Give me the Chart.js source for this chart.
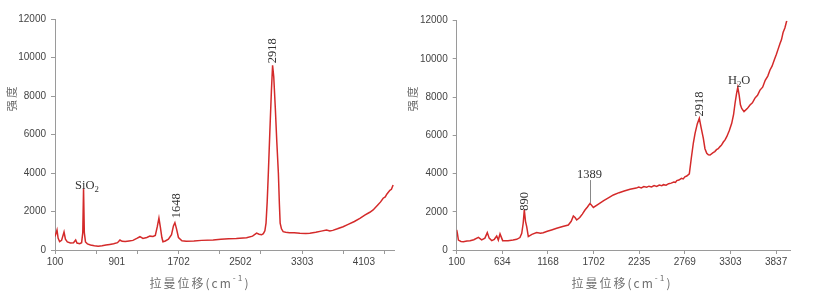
<!DOCTYPE html>
<html>
<head>
<meta charset="utf-8">
<script src="https://cdn.jsdelivr.net/npm/chart.js@4.4.1/dist/chart.umd.min.js"></script>
<style>
  html, body { margin: 0; padding: 0; background: #fff; }
  #wrap { position: relative; width: 816px; height: 299px; }
  .box { position: absolute; top: 0; height: 299px; }
</style>
</head>
<body>
<div id="wrap">
  <div class="box" style="left:0;width:404px"><canvas id="left" width="404" height="299"></canvas></div>
  <div class="box" style="left:404px;width:412px"><canvas id="right" width="412" height="299"></canvas></div>
</div>
<script>
// Raman spectra, two panels. x = Raman shift (cm-1), y = intensity.

const yTicks = [0, 2000, 4000, 6000, 8000, 10000, 12000];

// left panel
const leftLabels = [100, 901, 1702, 2502, 3303, 4103];
const leftMarks = [100, 634, 1168, 1702, 2235, 2769, 3303, 3837, 4371];
const leftShift = [
  100, 126, 140, 160, 185, 217, 235, 260, 300, 340, 368, 385, 420, 445, 460, 470, 480, 495,
  520, 560, 610, 660, 710, 760, 810, 860, 910, 942, 970, 1010, 1060, 1110, 1160, 1201, 1240,
  1290, 1330, 1370, 1400, 1425, 1447, 1465, 1485, 1499, 1530, 1570, 1610, 1635, 1654, 1675,
  1700, 1745, 1800, 1900, 2000, 2150, 2250, 2350, 2450, 2583, 2660, 2713, 2745, 2777, 2800,
  2820, 2835, 2850, 2865, 2885, 2905, 2920, 2935, 2955, 2975, 2995, 3008, 3018, 3035, 3057,
  3090, 3140, 3200, 3274, 3350, 3403, 3480, 3550, 3619, 3662, 3700, 3760, 3834, 3900, 3980,
  4051, 4120, 4180, 4223, 4280, 4320, 4353, 4380, 4400, 4440, 4460, 4482
];
const leftIntensity = [
  700, 1040, 620, 430, 500, 935, 560, 420, 360, 380, 520, 360, 330, 380, 900, 3200, 900, 420,
  320, 260, 220, 200, 220, 260, 290, 320, 380, 520, 450, 440, 470, 500, 600, 690, 600,
  650, 720, 700, 760, 1200, 1660, 1200, 650, 430, 470, 560, 800, 1250, 1420, 1100,
  650, 480, 450, 470, 500, 520, 560, 580, 600, 640, 720, 880, 820, 790, 850,
  1000, 1400, 2500, 4000, 6200, 8300, 9600, 9000, 7400, 5600, 4000, 2400, 1400, 1100, 950,
  920, 900, 890, 870, 860, 870, 920, 980, 1040, 990, 1020, 1100, 1210, 1330, 1480,
  1640, 1820, 1960, 2080, 2320, 2500, 2690, 2760, 2900, 3100, 3150, 3380
];

// right panel
const rightLabels = [100, 634, 1168, 1702, 2235, 2769, 3303, 3837];
const rightMarks = [100, 634, 1168, 1702, 2235, 2769, 3303, 3837];
const rightShift = [
  100, 107, 120, 150, 178, 220, 256, 300, 354, 392, 430, 458, 480, 510, 540, 568, 587, 607,
  638, 700, 760, 802, 840, 861, 878, 891, 905, 919, 938, 980, 1036, 1080, 1113, 1160, 1210,
  1270, 1340, 1406, 1440, 1465, 1485, 1504, 1540, 1570, 1601, 1630, 1660, 1699, 1750, 1820,
  1880, 1933, 2000, 2060, 2128, 2200, 2230, 2260, 2290, 2323, 2350, 2380, 2410, 2440, 2470,
  2500, 2518, 2550, 2580, 2610, 2640, 2660, 2675, 2700, 2730, 2750, 2770, 2792, 2822, 2845,
  2869, 2889, 2915, 2939, 2960, 2986, 3005, 3026, 3045, 3064, 3100, 3120, 3140, 3160, 3181,
  3200, 3220, 3240, 3260, 3290, 3318, 3340, 3357, 3375, 3389, 3405, 3420, 3435, 3462, 3500,
  3532, 3560, 3590, 3620, 3649, 3680, 3710, 3740, 3766, 3790, 3820, 3840, 3860, 3884, 3900,
  3920, 3940, 3962
];
const rightIntensity = [
  1050, 900, 520, 450, 435, 470, 490, 540, 660, 530, 620, 910, 620, 490, 560, 730, 520, 840,
  490, 490, 520, 560, 650, 870, 1400, 2100, 1500, 1220, 700, 820, 910, 880, 900, 980, 1050,
  1140, 1230, 1310, 1500, 1780, 1700, 1570, 1700, 1880, 2090, 2250, 2440, 2230, 2380, 2580,
  2740, 2880, 3000, 3090, 3180, 3240, 3290, 3250, 3320, 3290, 3340, 3300, 3370, 3330, 3400,
  3360, 3420, 3390, 3470, 3500, 3560, 3540, 3630, 3660, 3750, 3720, 3830, 3870, 3980, 4800,
  5600, 6100, 6600, 6890, 6400, 5840, 5300, 5060, 4980, 4970, 5100, 5150, 5250, 5300, 5410,
  5500, 5650, 5760, 5930, 6250, 6630, 7100, 7680, 8200, 8510, 8100, 7600, 7410, 7240, 7400,
  7590, 7700, 7950, 8100, 8370, 8520, 8880, 9100, 9420, 9620, 10000, 10230, 10500, 10820, 11000,
  11400, 11620, 12000
];

const RED = '#d42a2a';
const AXIS = '#9a9a9a';
const SERIF = '"Liberation Serif", "DejaVu Serif", serif';
const CJK = '"Noto Sans CJK SC", "Noto Sans", sans-serif';

// draw a run of text pieces; sub / sup pieces are smaller and shifted
function drawRuns(ctx, runs, x, y, size, family, align) {
  const fontFor = r => `${r.sub || r.sup ? size * 0.7 : size}px ${family}`;
  let total = 0;
  for (const r of runs) { ctx.font = fontFor(r); total += ctx.measureText(r.t).width; }
  let cx = align === 'center' ? x - total / 2 : x;
  ctx.textAlign = 'left';
  for (const r of runs) {
    ctx.font = fontFor(r);
    const dy = r.sub ? size * 0.22 : r.sup ? -size * 0.4 : 0;
    ctx.fillText(r.t, cx, y + dy);
    cx += ctx.measureText(r.t).width;
  }
}

const notesPlugin = {
  id: 'notes',
  afterDatasetsDraw(chart, args, o) {
    const { ctx, scales: { x, y } } = chart;
    ctx.save();
    ctx.fillStyle = '#333';
    ctx.textBaseline = 'alphabetic';
    for (const n of o.items) {
      const px = x.getPixelForValue(n.x);
      const py = y.getPixelForValue(n.y);
      if (n.leader) {
        ctx.strokeStyle = '#888';
        ctx.lineWidth = 1;
        ctx.beginPath();
        ctx.moveTo(Math.round(px) + 0.5, y.getPixelForValue(n.leader[0]));
        ctx.lineTo(Math.round(px) + 0.5, y.getPixelForValue(n.leader[1]));
        ctx.stroke();
      }
      if (n.rotate) {
        ctx.save();
        ctx.translate(px, py);
        ctx.rotate(-Math.PI / 2);
        ctx.textBaseline = 'middle';
        drawRuns(ctx, n.runs, 0, 0, 12.5, SERIF, 'left');
        ctx.restore();
      } else {
        drawRuns(ctx, n.runs, px, py, 12.5, SERIF, 'center');
      }
    }
    // axis titles
    ctx.fillStyle = '#6e6e6e';
    ctx.letterSpacing = '2px';
    ctx.textBaseline = 'middle';
    drawRuns(ctx, [{ t: '拉曼位移(cm' }, { t: '-1', sup: true }, { t: ')' }], o.xTitle[0], o.xTitle[1], 12, CJK, 'center');
    ctx.save();
    ctx.translate(o.yTitle[0], o.yTitle[1]);
    ctx.rotate(-Math.PI / 2);
    drawRuns(ctx, [{ t: '强度' }], 0, 0, 11.5, CJK, 'center');
    ctx.restore();
    ctx.restore();
  }
};

function spectrum(canvas, cfg) {
  const points = cfg.shift.map((x, i) => ({ x, y: cfg.intensity[i] }));
  const allTicks = [...new Set([...cfg.labels, ...cfg.marks])].sort((a, b) => a - b);
  const tickFont = { family: '"Liberation Sans", Arial, sans-serif', size: 10 };
  return new Chart(canvas, {
    type: 'line',
    data: { datasets: [{ data: points, borderColor: RED, borderWidth: 1.5, pointRadius: 0, tension: 0, fill: false }] },
    options: {
      responsive: false,
      animation: false,
      layout: { padding: { left: 0, right: cfg.padRight, top: cfg.padTop, bottom: 0 } },
      plugins: {
        legend: { display: false },
        tooltip: { enabled: false },
        notes: { items: cfg.notes, xTitle: cfg.xTitle, yTitle: cfg.yTitle },
      },
      scales: {
        x: {
          type: 'linear',
          min: cfg.min,
          max: cfg.max,
          afterBuildTicks: s => { s.ticks = allTicks.map(value => ({ value })); },
          afterFit: s => { s.height = 299 - cfg.bottom; },
          ticks: {
            autoSkip: false, maxRotation: 0, padding: 2, color: '#444', font: tickFont,
            callback: v => (cfg.labels.includes(v) ? String(v) : ''),
          },
          grid: {
            drawOnChartArea: false, tickLength: 4,
            tickColor: c => (c.tick && cfg.marks.includes(c.tick.value) ? AXIS : 'rgba(0,0,0,0)'),
          },
          border: { color: AXIS },
        },
        y: {
          type: 'linear',
          min: 0,
          max: 12000,
          afterBuildTicks: s => { s.ticks = yTicks.map(value => ({ value })); },
          afterFit: s => { s.width = cfg.left; },
          ticks: { padding: 5, color: '#444', font: tickFont, callback: v => String(v) },
          grid: { drawOnChartArea: false, tickLength: 4, tickColor: AXIS },
          border: { color: AXIS },
        },
      },
    },
    plugins: [notesPlugin],
  });
}

spectrum(document.getElementById('left'), {
  shift: leftShift, intensity: leftIntensity, labels: leftLabels, marks: leftMarks,
  min: 100, max: 4500, left: 55, padRight: 404 - 394.5, padTop: 19, bottom: 250,
  xTitle: [200, 283], yTitle: [12, 98],
  notes: [
    { x: 515, y: 3150, runs: [{ t: 'SiO' }, { t: '2', sub: true }] },
    { x: 1672, y: 1650, rotate: true, runs: [{ t: '1648' }] },
    { x: 2924, y: 9700, rotate: true, runs: [{ t: '2918' }] },
  ],
});

spectrum(document.getElementById('right'), {
  shift: rightShift, intensity: rightIntensity, labels: rightLabels, marks: rightMarks,
  min: 100, max: 4000, left: 52.7, padRight: 412 - 386, padTop: 20.7, bottom: 250,
  xTitle: [218, 283], yTitle: [8.5, 98],
  notes: [
    { x: 900, y: 2050, rotate: true, runs: [{ t: '890' }] },
    { x: 1655, y: 3780, leader: [3660, 2460], runs: [{ t: '1389' }] },
    { x: 2948, y: 6980, rotate: true, runs: [{ t: '2918' }] },
    { x: 3405, y: 8700, runs: [{ t: 'H' }, { t: '2', sub: true }, { t: 'O' }] },
  ],
});
</script>
</body>
</html>
